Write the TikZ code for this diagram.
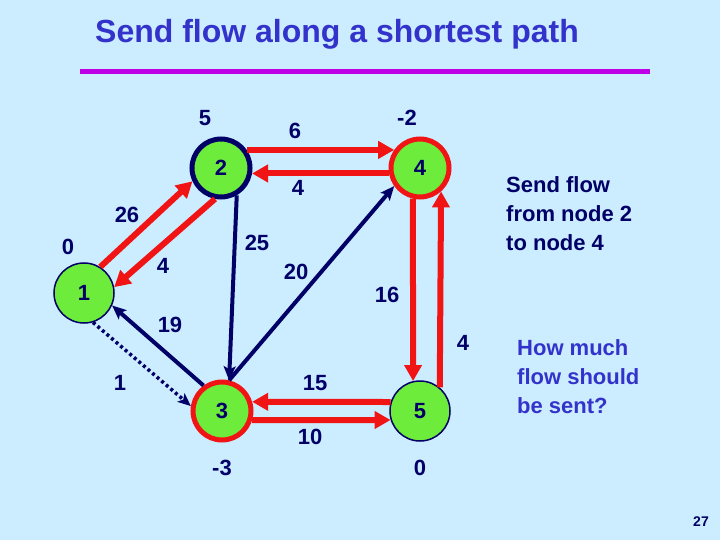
\documentclass[tikz,border=0pt]{standalone}
\usepackage{fontspec}
\setmainfont{Liberation Sans}
\usetikzlibrary{arrows.meta}
\definecolor{bg}{RGB}{204,236,255}
\definecolor{navy}{RGB}{0,0,102}
\definecolor{ttl}{RGB}{51,51,204}
\definecolor{mag}{RGB}{190,0,230}
\definecolor{grn}{RGB}{110,236,60}
\definecolor{rd}{RGB}{240,20,20}
\begin{document}
\begin{tikzpicture}[x=1pt,y=-1pt,
 vert/.style={circle,fill=grn,minimum size=58pt,inner sep=0pt,font=\fontsize{22}{26}\selectfont\bfseries,text=navy},
 thinv/.style={vert,draw=navy,line width=1.5pt,minimum size=60pt},
 darkv/.style={vert,draw=navy,line width=5pt},
 redv/.style={vert,draw=rd,line width=5pt},
 lbl/.style={font=\fontsize{22}{26}\selectfont\bfseries,text=navy,inner sep=0pt},
 redarc/.style={draw=rd,line width=6pt,-{Triangle[length=16pt,width=17pt]}},
 navarc/.style={draw=navy,line width=4pt,-{Stealth[length=14pt,width=12pt,inset=3pt]}},
 dotarc/.style={draw=navy,line width=3.5pt,dash pattern=on 3pt off 3pt,-{Stealth[length=13pt,width=11pt,inset=3pt]}},
 note/.style={font=\fontsize{22}{29}\selectfont\bfseries,align=left,inner sep=0pt,anchor=north west},
]
\fill[bg] (0,0) rectangle (720,540);
\useasboundingbox (0,0) rectangle (720,540);

% title
\node[anchor=base west,inner sep=0pt,text=ttl,font=\fontsize{32}{36}\selectfont\bfseries] (title) at (95,43) {Send flow along a shortest path};
\coordinate (rl) at (80,72);
\coordinate (rr) at (650,72);
\draw[mag,line width=5pt] (rl) -- (rr);

% vertices
\node[darkv] (n2) at (221,168) {2};
\node[redv]  (n4) at (420,168) {4};
\node[thinv] (n1) at (84,293) {1};
\node[redv]  (n3) at (222,411) {3};
\node[thinv] (n5) at (420,411) {5};

% red arcs
\draw[redarc] (n2.35) -- (n4.145);
\draw[redarc] (n4.190) -- (n2.350);
\draw[redarc] (n1.58) -- (n2.205);
\draw[redarc] (n2.259) -- (n1.11);
\draw[redarc] (n4.257) -- (n5.103);
\draw[redarc] (n5.50) -- (n4.312);
\draw[redarc] (n5.163) -- (n3.17);
\draw[redarc] (n3.343) -- (n5.197);

% navy arcs
\draw[navarc] (n2.300) -- (n3.77);
\draw[navarc] (n3.77) -- (n4.215);
\draw[navarc] (n3.126) -- (n1.336);
\draw[dotarc] (n1.287) -- (n3.171);

% labels
\node[lbl] (p2) at (205,118) {5};
\node[lbl] (p4) at (407,118) {-2};
\node[lbl] (p1) at (68,247) {0};
\node[lbl] (p3) at (222,468) {-3};
\node[lbl] (p5) at (420,468) {0};
\node[lbl] (c24) at (295,131) {6};
\node[lbl] (c42) at (298,188) {4};
\node[lbl] (c12) at (127,215) {26};
\node[lbl] (c21) at (163,266) {4};
\node[lbl] (c23) at (257,243) {25};
\node[lbl] (c34) at (296,272) {20};
\node[lbl] (c45) at (387,295) {16};
\node[lbl] (c54) at (463,343) {4};
\node[lbl] (c31) at (170,325) {19};
\node[lbl] (c13) at (120,383) {1};
\node[lbl] (c53) at (315,383) {15};
\node[lbl] (c35) at (310,437) {10};

% notes
\node[note,text=navy] (t1) at (506,176) {Send flow\\from node 2\\to node 4};
\node[note,text=ttl] (t2) at (517,339) {How much\\flow should\\be sent?};
\node[inner sep=0pt,text=navy,font=\fontsize{14}{16}\selectfont\bfseries] (pg) at (701,522) {27};
\end{tikzpicture}
\end{document}
